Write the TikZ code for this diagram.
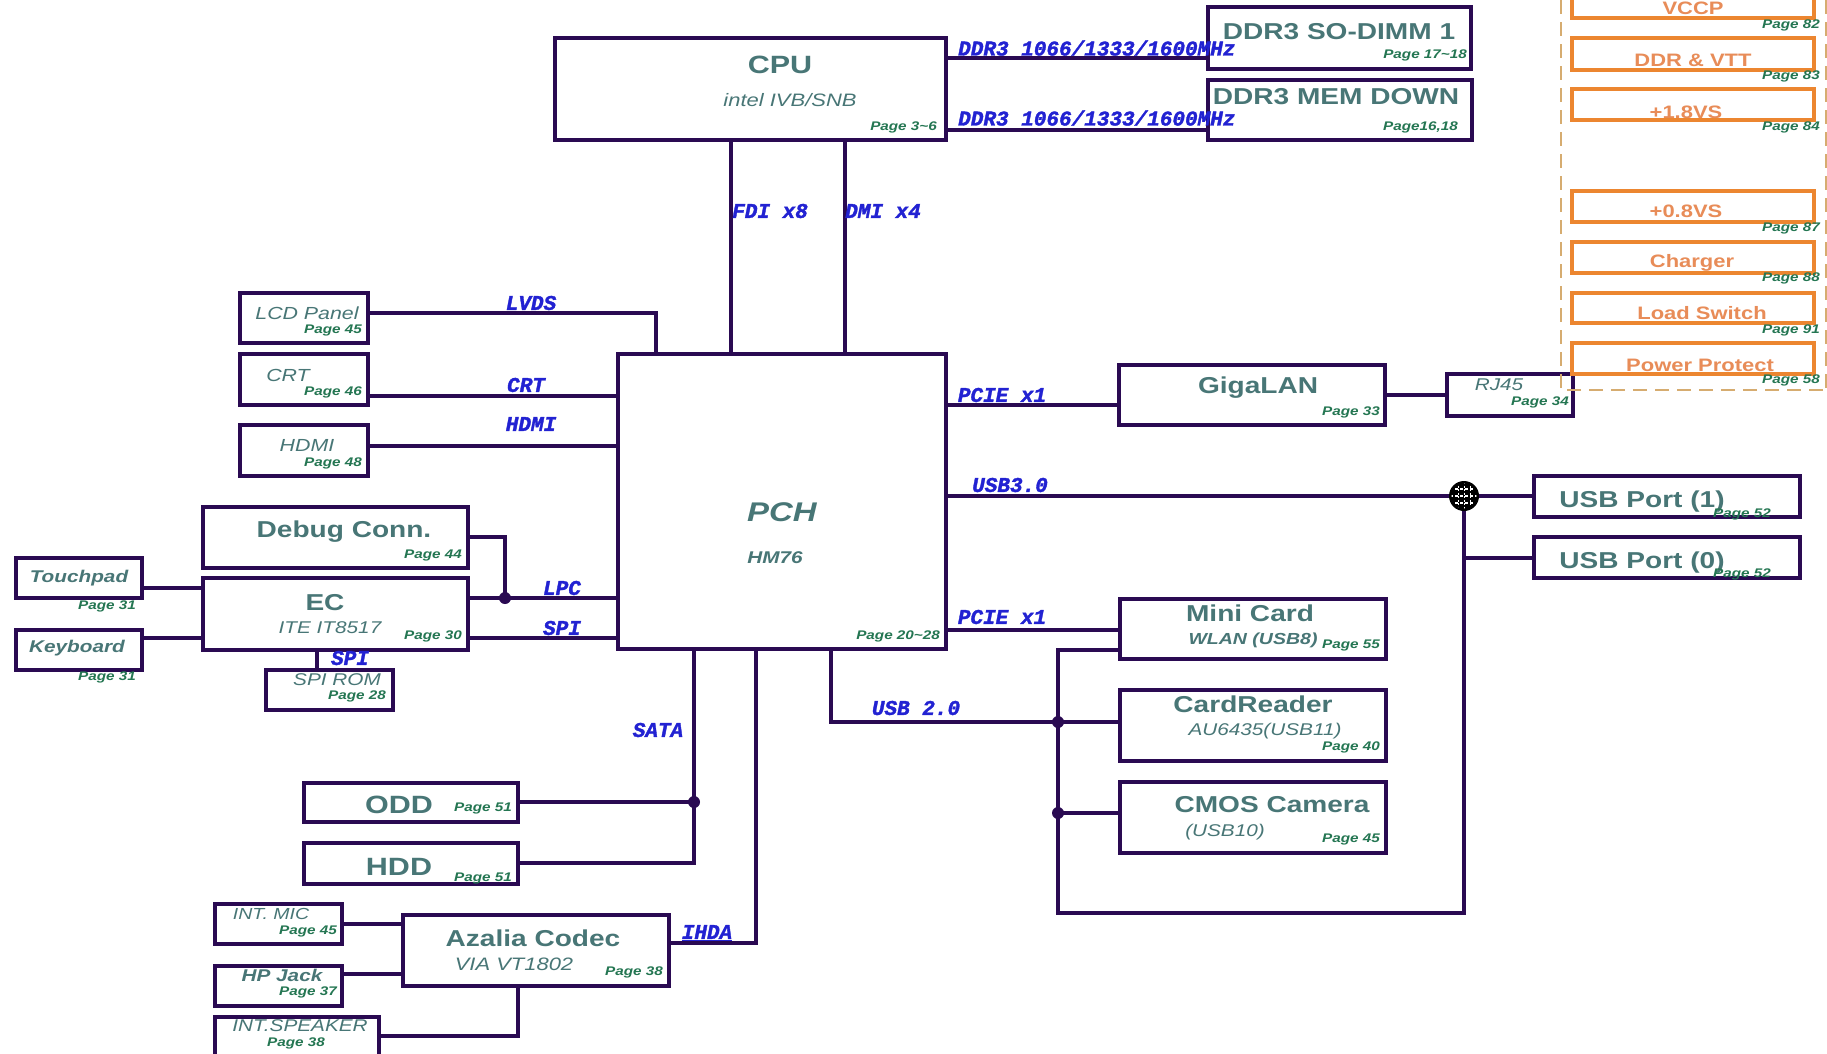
\documentclass[tikz,border=0pt]{standalone}
\usepackage{fontspec}
\newfontfamily\hvf{Liberation Sans}[FakeStretch=1.22]
\newfontfamily\mnf{Liberation Mono}[FakeBold=1.6]
\newcommand\fsz[1]{\fontsize{#1}{#1}\selectfont}
\definecolor{bcol}{RGB}{42,10,82}
\definecolor{tcol}{RGB}{72,118,118}
\definecolor{gcol}{RGB}{36,118,82}
\definecolor{lcol}{RGB}{34,34,210}
\definecolor{ocol}{RGB}{236,134,48}
\definecolor{otcol}{RGB}{232,140,88}
\definecolor{dcol}{RGB}{214,172,112}
\newcommand\bx[6][box]{\node[#1, anchor=north west, minimum width={#5-#3}, minimum height={#6-#4}] (#2) at (#3,#4) {};}
\begin{document}
\begin{tikzpicture}[x=1pt,y=-1pt,
  box/.style={draw=bcol, line width=3.3pt, inner sep=0, outer sep=0, rectangle},
  pbox/.style={draw=ocol, line width=3.2pt, inner sep=0, outer sep=0, rectangle},
  wire/.style={draw=bcol, line width=3.3pt},
  ttl/.style={text=tcol, font=\hvf\bfseries\fsz{#1}, inner sep=0},
  ttl/.default=23,
  sub/.style={text=tcol, font=\hvf\itshape\fsz{#1}, inner sep=0},
  sub/.default=17,
  bsub/.style={text=tcol, font=\hvf\bfseries\itshape\fsz{#1}, inner sep=0},
  bsub/.default=17,
  pg/.style={text=gcol, font=\hvf\bfseries\itshape\fsz{12.5}, inner sep=0, anchor=east},
  pgc/.style={text=gcol, font=\hvf\bfseries\itshape\fsz{12.5}, inner sep=0},
  buslbl/.style={text=lcol, font=\mnf\bfseries\itshape\fsz{21}, inner sep=0},
  otx/.style={text=otcol, font=\hvf\bfseries\fsz{18}, inner sep=0},
  jdot/.style={circle, fill=bcol, inner sep=0, minimum size=12pt}
]
\useasboundingbox (0,0) rectangle (1827,1053);
\fill[white] (0,0) rectangle (1827,1053);
\clip (0,0) rectangle (1827,1053);

% ---------- purple boxes
\bx{cpu}{555}{38}{946}{140}
\bx{dimm}{1208}{7}{1471}{69}
\bx{memd}{1208}{80}{1472}{140}
\bx{lcd}{240}{293}{368}{343}
\bx{crtb}{240}{354}{368}{405}
\bx{hdmib}{240}{425}{368}{476}
\bx{pch}{618}{354}{946}{649}
\bx{dbg}{203}{507}{468}{568}
\bx{ec}{203}{578}{468}{650}
\bx{tpad}{16}{558}{142}{598}
\bx{kbd}{16}{630}{142}{670}
\bx{rom}{266}{670}{393}{710}
\bx{giga}{1119}{365}{1385}{425}
\bx{rj}{1447}{374}{1573}{416}
\bx{usba}{1534}{476}{1800}{517}
\bx{usbb}{1534}{537}{1800}{578}
\bx{mini}{1120}{599}{1386}{659}
\bx{card}{1120}{690}{1386}{761}
\bx{cmos}{1120}{782}{1386}{853}
\bx{odd}{304}{783}{518}{822}
\bx{hdd}{304}{843}{518}{884}
\bx{aza}{403}{915}{669}{986}
\bx{mic}{215}{904}{342}{944}
\bx{hpj}{215}{966}{342}{1006}
\bx{spk}{215}{1017}{379}{1070}

% ---------- power boxes
\draw[dcol, line width=2pt, dash pattern=on 14pt off 8pt] (1561,0) -- (1561,390) -- (1827,390);
\draw[dcol, line width=2pt, dash pattern=on 14pt off 8pt] (1826,0) -- (1826,390);
\bx[pbox]{p1}{1572}{-13}{1814}{18}
\bx[pbox]{p2}{1572}{38}{1814}{70}
\bx[pbox]{p3}{1572}{89}{1814}{120}
\bx[pbox]{p4}{1572}{191}{1814}{222}
\bx[pbox]{p5}{1572}{242}{1814}{273}
\bx[pbox]{p6}{1572}{293}{1814}{323}
\bx[pbox]{p7}{1572}{343}{1814}{374}

% ---------- junctions
\coordinate (lpcj) at (505,598);
\coordinate (busbr) at (1464,913);
\coordinate (busbl) at (1058,913);
\coordinate (bustop) at (1058,650);
\coordinate (u0j) at (1464,558);
\coordinate (crj) at (1058,722);
\coordinate (cmj) at (1058,813);
\coordinate (sataj) at (694,802);

% ---------- wires
\draw[wire] (cpu.east |- 0,58) -- (dimm.west |- 0,58);
\draw[wire] (cpu.east |- 0,130) -- (memd.west |- 0,130);
\draw[wire] (cpu.south -| 731,0) -- (pch.north -| 731,0);
\draw[wire] (cpu.south -| 845,0) -- (pch.north -| 845,0);
\draw[wire] (lcd.east |- 0,313) -| (pch.north -| 656,0);
\draw[wire] (crtb.east |- 0,396) -- (pch.west |- 0,396);
\draw[wire] (hdmib.east |- 0,446) -- (pch.west |- 0,446);
\draw[wire] (dbg.east |- 0,537) -| (lpcj);
\draw[wire] (ec.east |- 0,598) -- (pch.west |- 0,598);
\draw[wire] (ec.east |- 0,638) -- (pch.west |- 0,638);
\draw[wire] (tpad.east |- 0,588) -- (ec.west |- 0,588);
\draw[wire] (kbd.east |- 0,638) -- (ec.west |- 0,638);
\draw[wire] (ec.south -| 317,0) -- (rom.north -| 317,0);
\draw[wire] (pch.east |- 0,405) -- (giga.west |- 0,405);
\draw[wire] (giga.east |- 0,395) -- (rj.west |- 0,395);
\draw[wire] (pch.east |- 0,496) -- (usba.west |- 0,496);
\draw[wire] (1464,496) -- (busbr) -- (busbl) -- (bustop) -- (mini.west |- bustop);
\draw[wire] (u0j) -- (usbb.west |- u0j);
\draw[wire] (pch.east |- 0,630) -- (mini.west |- 0,630);
\draw[wire] (pch.south -| 831,0) |- (card.west |- crj);
\draw[wire] (cmj) -- (cmos.west |- cmj);
\draw[wire] (pch.south -| 694,0) |- (hdd.east |- 0,863);
\draw[wire] (odd.east |- sataj) -- (sataj);
\draw[wire] (pch.south -| 756,0) |- (aza.east |- 0,943);
\draw[wire] (mic.east |- 0,924) -- (aza.west |- 0,924);
\draw[wire] (hpj.east |- 0,974) -- (aza.west |- 0,974);
\draw[wire] (aza.south -| 518,0) |- (spk.east |- 0,1036);

\node[jdot] (jd1) at (lpcj) {};
\node[jdot] (jd2) at (crj) {};
\node[jdot] (jd3) at (cmj) {};
\node[jdot] (jd4) at (sataj) {};

% hub
\node[circle, fill=black, minimum size=30pt, inner sep=0] (hub) at (1464,496) {};
\begin{scope}
\clip (1464,496) circle (12.5pt);
\foreach \yy in {489,496,503}
  \draw[white, line width=1.6pt, dash pattern=on 2.6pt off 2.4pt] (1450,\yy) -- (1478,\yy);
\foreach \xx in {1458,1464,1470}
  \draw[white, line width=0.7pt, dash pattern=on 2pt off 1.5pt] (\xx,482) -- (\xx,510);
\end{scope}

% ---------- texts
\node[ttl=25] (tcpu) at (780,65) {CPU};
\node[sub=18] (tcpu2) at (790,100) {intel IVB/SNB};
\node[pg] (pcpu) at (937,127) {Page 3\textasciitilde 6};
\node[ttl=23] (tdimm) at (1339,32) {DDR3 SO-DIMM 1};
\node[pg] (pdimm) at (1467,55) {Page 17\textasciitilde 18};
\node[ttl=23] (tmemd) at (1336,97) {DDR3 MEM DOWN};
\node[pg] (pmemd) at (1458,127) {Page16,18};

\node[bsub=27] (tpch) at (782,512) {PCH};
\node[bsub=17] (tpch2) at (775,558) {HM76};
\node[pg] (ppch) at (940,636) {Page 20\textasciitilde 28};

\node[sub=17.5] (tlcd) at (307,313) {LCD Panel};
\node[pg] (plcd) at (362,330) {Page 45};
\node[sub=17.5] (tcrt) at (288,375) {CRT};
\node[pg] (pcrt) at (362,392) {Page 46};
\node[sub=17.5] (thdmi) at (307,445) {HDMI};
\node[pg] (phdmi) at (362,463) {Page 48};

\node[ttl=23] (tdbg) at (344,532) {Debug Conn.};
\node[pg] (pdbg) at (462,555) {Page 44};
\node[ttl=23] (tec) at (325,603) {EC};
\node[sub=17] (tec2) at (330,628) {ITE IT8517};
\node[pg] (pec) at (462,636) {Page 30};
\node[bsub=17] (ttp) at (79,578) {Touchpad};
\node[pgc] (ptp) at (107,606) {Page 31};
\node[bsub=17] (tkb) at (77,648) {Keyboard};
\node[pgc] (pkb) at (107,677) {Page 31};
\node[sub=17] (trom) at (337,680) {SPI ROM};
\node[pg] (prom) at (386,696) {Page 28};

\node[ttl=23] (tgiga) at (1258,388) {GigaLAN};
\node[pg] (pgiga) at (1380,412) {Page 33};
\node[sub=17] (trj) at (1499,385) {RJ45};
\node[pg] (prj) at (1569,402) {Page 34};
\node[ttl=23] (tusba) at (1642,502) {USB Port (1)};
\node[pgc] (pusba) at (1742,514) {Page 52};
\node[ttl=23] (tusbb) at (1642,563) {USB Port (0)};
\node[pgc] (pusbb) at (1742,574) {Page 52};

\node[ttl=23] (tmini) at (1250,613) {Mini Card};
\node[bsub=16] (tmini2) at (1253,640) {WLAN (USB8)};
\node[pg] (pmini) at (1380,645) {Page 55};
\node[ttl=23] (tcard) at (1253,704) {CardReader};
\node[sub=17] (tcard2) at (1265,731) {AU6435(USB11)};
\node[pg] (pcard) at (1380,747) {Page 40};
\node[ttl=23] (tcmos) at (1272,805) {CMOS Camera};
\node[sub=17] (tcmos2) at (1225,832) {(USB10)};
\node[pg] (pcmos) at (1380,839) {Page 45};

\node[ttl=25] (todd) at (399,805) {ODD};
\node[pg] (podd) at (512,808) {Page 51};
\node[ttl=25] (thdd) at (399,867) {HDD};
\node[pg] (phdd) at (512,878) {Page 51};
\node[ttl=23] (taza) at (533,938) {Azalia Codec};
\node[sub=18] (taza2) at (514,964) {VIA VT1802};
\node[pg] (paza) at (663,972) {Page 38};
\node[sub=16] (tmic) at (271,914) {INT. MIC};
\node[pg] (pmic) at (337,931) {Page 45};
\node[bsub=17] (thp) at (282,975) {HP Jack};
\node[pg] (php) at (337,992) {Page 37};
\node[sub=17] (tspk) at (300,1026) {INT.SPEAKER};
\node[pgc] (pspk) at (296,1043) {Page 38};

% power texts
\node[otx] (o1) at (1693,8) {VCCP};
\node[otx] (o2) at (1693,60) {DDR \& VTT};
\node[otx] (o3) at (1686,112) {+1.8VS};
\node[otx] (o4) at (1686,211) {+0.8VS};
\node[otx] (o5) at (1692,263) {Charger};
\node[otx] (o6) at (1702,313) {Load Switch};
\node[otx] (o7) at (1700,365) {Power Protect};
\node[pg] (q1) at (1820,25) {Page 82};
\node[pg] (q2) at (1820,76) {Page 83};
\node[pg] (q3) at (1820,127) {Page 84};
\node[pg] (q4) at (1820,228) {Page 87};
\node[pg] (q5) at (1820,278) {Page 88};
\node[pg] (q6) at (1820,330) {Page 91};
\node[pg] (q7) at (1820,380) {Page 58};

% bus labels
\node[buslbl, anchor=west] (l1) at (958,48) {DDR3 1066/1333/1600MHz};
\node[buslbl, anchor=west] (l2) at (958,118) {DDR3 1066/1333/1600MHz};
\node[buslbl] (l3) at (770,211) {FDI x8};
\node[buslbl] (l4) at (883,211) {DMI x4};
\node[buslbl] (l5) at (531,303) {LVDS};
\node[buslbl] (l6) at (526,385) {CRT};
\node[buslbl] (l7) at (531,424) {HDMI};
\node[buslbl] (l8) at (562,588) {LPC};
\node[buslbl] (l9) at (562,628) {SPI};
\node[buslbl] (l10) at (350,658) {SPI};
\node[buslbl] (l11) at (1002,395) {PCIE x1};
\node[buslbl] (l12) at (1010,485) {USB3.0};
\node[buslbl] (l13) at (1002,617) {PCIE x1};
\node[buslbl] (l14) at (916,708) {USB 2.0};
\node[buslbl] (l15) at (658,730) {SATA};
\node[buslbl] (l16) at (707,933) {\underline{IHDA}};
\end{tikzpicture}
\end{document}
